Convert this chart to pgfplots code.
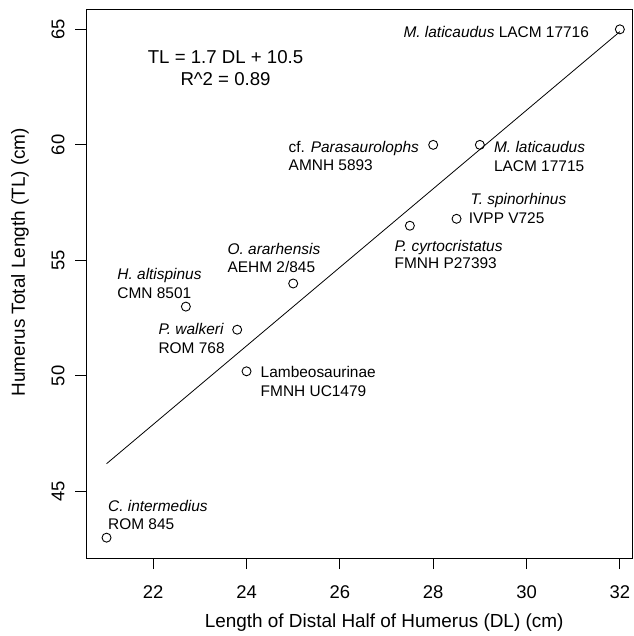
\documentclass[border=0pt]{standalone}
\usepackage{fontspec}
\setmainfont{Liberation Sans}
\usepackage{pgfplots}
\pgfplotsset{compat=1.18}

\newcommand{\lbfont}{\fontsize{15.5}{19}\selectfont}

\begin{document}
\begin{tikzpicture}
\begin{axis}[
  scale only axis,
  width=546bp, height=549bp,
  xmin=20.56, xmax=32.26,
  ymin=42.12, ymax=65.88,
  xtick={22,24,...,32},
  ytick={45,50,...,65},
  xtick pos=left, ytick pos=left,
  tick align=outside,
  major tick length=11bp,
  minor tick num=0,
  axis line style={line width=0.9bp},
  tick style={line width=0.9bp, black},
  /pgf/number format/assume math mode=true,
  tick label style={font=\fontsize{18.5}{22}\selectfont},
  xticklabel shift=13bp,
  yticklabel shift=7bp,
  yticklabel style={rotate=90, anchor=south},
  label style={font=\fontsize{19}{23}\selectfont},
  xlabel={Length of Distal Half of Humerus (DL) (cm)},
  ylabel={Humerus Total Length (TL) (cm)},
  xlabel style={at={(axis description cs:0.546,-0.118)}, anchor=center},
  ylabel style={at={(axis description cs:-0.121,0.539)}, anchor=center},
  clip=false,
]
% regression line
\addplot[black, line width=0.8bp, no marks] coordinates {(21,46.2) (32,64.9)};
% specimens
\addplot[black, only marks, mark=o, mark size=4.5bp, mark options={line width=0.9bp}] coordinates {
  (21.0,43.0) (22.7,53.0) (23.8,52.0) (24.0,50.2) (25.0,54.0)
  (27.5,56.5) (28.0,60.0) (28.5,56.8) (29.0,60.0) (32.0,65.0)
};

\node[anchor=base, font=\fontsize{18.7}{22}\selectfont] at (axis cs:23.55,63.53) {TL = 1.7 DL + 10.5};
\node[anchor=base, font=\fontsize{18.7}{22}\selectfont] at (axis cs:23.55,62.58) {R\^{}2 = 0.89};

\node[anchor=base west, font=\lbfont, inner sep=0pt] at (axis cs:27.36,64.65) {\textit{M. laticaudus} LACM 17716};
\node[anchor=base west, font=\lbfont, inner sep=0pt] at (axis cs:24.90,59.68) {cf. \textit{Parasaurolophs}};
\node[anchor=base west, font=\lbfont, inner sep=0pt] at (axis cs:24.90,58.90) {AMNH 5893};
\node[anchor=base west, font=\lbfont, inner sep=0pt] at (axis cs:29.30,59.68) {\textit{M. laticaudus}};
\node[anchor=base west, font=\lbfont, inner sep=0pt] at (axis cs:29.30,58.85) {LACM 17715};
\node[anchor=base west, font=\lbfont, inner sep=0pt] at (axis cs:28.80,57.42) {\textit{T. spinorhinus}};
\node[anchor=base west, font=\lbfont, inner sep=0pt] at (axis cs:28.76,56.60) {IVPP V725};
\node[anchor=base west, font=\lbfont, inner sep=0pt] at (axis cs:27.17,55.39) {\textit{P. cyrtocristatus}};
\node[anchor=base west, font=\lbfont, inner sep=0pt] at (axis cs:27.17,54.65) {FMNH P27393};
\node[anchor=base west, font=\lbfont, inner sep=0pt] at (axis cs:23.59,55.26) {\textit{O. ararhensis}};
\node[anchor=base west, font=\lbfont, inner sep=0pt] at (axis cs:23.59,54.48) {AEHM 2/845};
\node[anchor=base west, font=\lbfont, inner sep=0pt] at (axis cs:21.23,54.18) {\textit{H. altispinus}};
\node[anchor=base west, font=\lbfont, inner sep=0pt] at (axis cs:21.23,53.36) {CMN 8501};
\node[anchor=base west, font=\lbfont, inner sep=0pt] at (axis cs:22.11,51.80) {\textit{P. walkeri}};
\node[anchor=base west, font=\lbfont, inner sep=0pt] at (axis cs:22.11,50.97) {ROM 768};
\node[anchor=base west, font=\lbfont, inner sep=0pt] at (axis cs:24.30,49.94) {Lambeosaurinae};
\node[anchor=base west, font=\lbfont, inner sep=0pt] at (axis cs:24.30,49.11) {FMNH UC1479};
\node[anchor=base west, font=\lbfont, inner sep=0pt] at (axis cs:21.03,44.13) {\textit{C. intermedius}};
\node[anchor=base west, font=\lbfont, inner sep=0pt] at (axis cs:21.03,43.35) {ROM 845};

\coordinate (sw) at (rel axis cs:0,0);
\coordinate (ne) at (rel axis cs:1,1);
\end{axis}
\pgfresetboundingbox
\path ([xshift=-86bp,yshift=-78bp]sw) rectangle ([xshift=2bp,yshift=9bp]ne);
\end{tikzpicture}
\end{document}
